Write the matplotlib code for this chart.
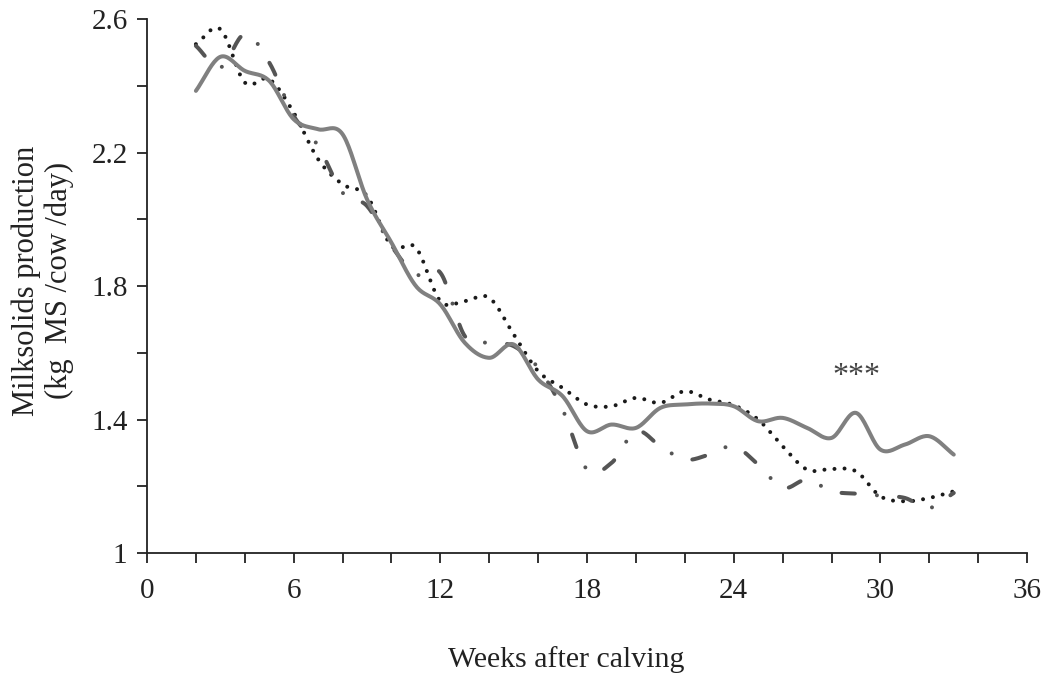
import numpy as np
import matplotlib
matplotlib.use("Agg")
import matplotlib.pyplot as plt

# weekly means (kg MS/cow/day)
weeks = list(range(2, 34))

solid_vals = [2.385, 2.487, 2.445, 2.415, 2.30, 2.27, 2.255, 2.06, 1.93, 1.80,
              1.745, 1.63, 1.585, 1.625, 1.52, 1.47, 1.365, 1.385, 1.375, 1.435,
              1.445, 1.448, 1.44, 1.395, 1.405, 1.375, 1.345, 1.42, 1.31, 1.325,
              1.35, 1.295]

dotted_vals = [2.525, 2.57, 2.41, 2.42, 2.32, 2.18, 2.105, 2.07, 1.92, 1.915,
               1.755, 1.755, 1.765, 1.655, 1.545, 1.495, 1.445, 1.44, 1.465, 1.45,
               1.485, 1.46, 1.443, 1.40, 1.32, 1.25, 1.252, 1.245, 1.17, 1.155,
               1.165, 1.185]

dashdot_vals = [2.52, 2.455, 2.555, 2.47, 2.31, 2.22, 2.08, 2.04, 1.92, 1.835,
                1.84, 1.65, 1.63, 1.62, 1.555, 1.43, 1.25, 1.27, 1.365, 1.32,
                1.28, 1.295, 1.32, 1.265, 1.195, 1.22, 1.185, 1.178, 1.172, 1.165,
                1.135, 1.18]

xticks = [0, 6, 12, 18, 24, 30, 36]
yticks = [1, 1.4, 1.8, 2.2, 2.6]


def smooth(x, y, n=20):
    # catmull-rom curve through the points, like a spreadsheet "smoothed line"
    x = np.asarray(x, float)
    y = np.asarray(y, float)
    px = np.concatenate([[2 * x[0] - x[1]], x, [2 * x[-1] - x[-2]]])
    py = np.concatenate([[2 * y[0] - y[1]], y, [2 * y[-1] - y[-2]]])
    t = np.linspace(0, 1, n, endpoint=False)
    xs, ys = [], []
    for i in range(1, len(px) - 2):
        for p, out in ((px, xs), (py, ys)):
            p0, p1, p2, p3 = p[i - 1], p[i], p[i + 1], p[i + 2]
            out.append(0.5 * (2 * p1 + (-p0 + p2) * t
                              + (2 * p0 - 5 * p1 + 4 * p2 - p3) * t ** 2
                              + (-p0 + 3 * p1 - 3 * p2 + p3) * t ** 3))
    xs.append([x[-1]])
    ys.append([y[-1]])
    return np.concatenate(xs), np.concatenate(ys)


plt.rcParams['font.family'] = ['Liberation Serif', 'DejaVu Serif']

fig = plt.figure(figsize=(10.47, 6.83), dpi=100)
ax = fig.add_axes([0.1404, 0.1903, 0.8406, 0.7817])

lw = 2.9

sx, sy = smooth(weeks, dotted_vals)
ax.plot(sx, sy, color='#1a1a1a', lw=lw, linestyle=(0, (0.001, 2.5)),
        dash_capstyle='round')

sx, sy = smooth(weeks, dashdot_vals)
ax.plot(sx, sy, color='#555555', lw=lw,
        linestyle=(0, (3.3, 5.5, 0.001, 5.5)), dash_capstyle='round')

sx, sy = smooth(weeks, solid_vals)
ax.plot(sx, sy, color='#808080', lw=lw, solid_capstyle='round')

ax.text(29.0, 1.53, '***', fontsize=23, ha='center', va='center',
        color='#444444')

ax.set_xlim(0, 36)
ax.set_ylim(1, 2.6)
ax.set_xticks(xticks)
ax.set_xticks(range(0, 37, 2), minor=True)
ax.set_yticks(yticks)
ax.set_yticks([1.2, 1.6, 2.0, 2.4], minor=True)
ax.set_xticklabels([str(v) for v in xticks])
ax.set_yticklabels(['1', '1.4', '1.8', '2.2', '2.6'])

for side in ('top', 'right'):
    ax.spines[side].set_visible(False)
for side in ('left', 'bottom'):
    ax.spines[side].set_linewidth(1.3)
    ax.spines[side].set_color('#222222')

ax.tick_params(which='both', direction='out', length=7, width=1.3,
               color='#222222', labelsize=21, labelcolor='#222222')
ax.tick_params(axis='x', which='major', pad=11)
ax.tick_params(axis='y', which='major', pad=7)

ax.set_xlabel('Weeks after calving', fontsize=21.5, color='#222222')
ax.xaxis.set_label_coords(0.476, -0.175)
ax.set_ylabel('Milksolids production\n(kg  MS /cow /day)', fontsize=22,
              linespacing=1.15, color='#222222')
ax.yaxis.set_label_coords(-0.083, 0.51)

fig.savefig('out.png', dpi=100)
